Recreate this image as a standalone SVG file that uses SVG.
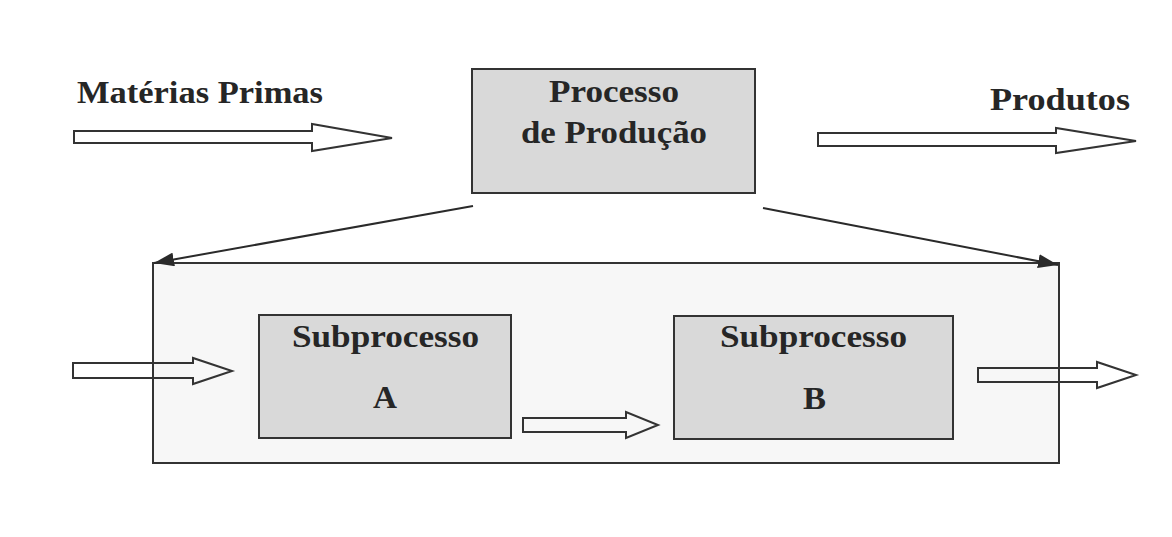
<svg xmlns="http://www.w3.org/2000/svg" width="1172" height="537" viewBox="0 0 1172 537">
<style>
.lbl{font-family:"Liberation Serif","Times New Roman",serif;font-weight:bold;font-size:32px;fill:#262626;}
.box{fill:#d9d9d9;stroke:#333;stroke-width:2;}
.blk{fill:none;stroke:#333;stroke-width:2;stroke-linejoin:miter;}
.con{fill:none;stroke:#2a2a2a;stroke-width:2;}
</style>
<defs>
<marker id="ah2" viewBox="0 0 20 14" refX="20" refY="7" markerWidth="20" markerHeight="14" markerUnits="userSpaceOnUse" orient="auto">
<path d="M0,0 L20,7 L0,14 Z" fill="#2a2a2a"/>
</marker>
</defs>
<rect width="1172" height="537" fill="#ffffff"/>

<g id="subsystem">
<rect x="153" y="263" width="906" height="200" fill="#f7f7f7" stroke="#333" stroke-width="2"/>
</g>

<g id="materias">
<text class="lbl" x="77" y="103" textLength="246" lengthAdjust="spacingAndGlyphs">Matérias Primas</text>
</g>

<g id="processo">
<rect class="box" x="472" y="69" width="283" height="124"/>
<text class="lbl" x="549" y="102" textLength="130" lengthAdjust="spacingAndGlyphs">Processo</text>
<text class="lbl" x="521" y="143" textLength="186" lengthAdjust="spacingAndGlyphs">de Produção</text>
</g>

<g id="produtos">
<text class="lbl" x="990" y="110" textLength="140" lengthAdjust="spacingAndGlyphs">Produtos</text>
</g>

<g id="subA">
<rect class="box" x="259" y="315" width="252" height="123"/>
<text class="lbl" x="292" y="347" textLength="187" lengthAdjust="spacingAndGlyphs">Subprocesso</text>
<text class="lbl" x="373" y="408" textLength="24" lengthAdjust="spacingAndGlyphs">A</text>
</g>

<g id="subB">
<rect class="box" x="674" y="316" width="279" height="123"/>
<text class="lbl" x="720" y="347" textLength="187" lengthAdjust="spacingAndGlyphs">Subprocesso</text>
<text class="lbl" x="803" y="409" textLength="23" lengthAdjust="spacingAndGlyphs">B</text>
</g>

<g id="connectors">
<path class="blk" d="M74,131 L312,131 L312,124 L392,138 L312,151 L312,143 L74,143 Z"/>
<path class="blk" d="M818,133 L1056,133 L1056,128 L1136,141 L1056,153 L1056,146 L818,146 Z"/>
<path class="blk" d="M73,363 L193,363 L193,358 L232,371 L193,384 L193,378 L73,378 Z"/>
<path class="blk" d="M523,418 L626,418 L626,412 L658,425 L626,438 L626,432 L523,432 Z"/>
<path class="blk" d="M978,368 L1097,368 L1097,362 L1136,375 L1097,388 L1097,382 L978,382 Z"/>
<line class="con" x1="473" y1="206" x2="154" y2="263" marker-end="url(#ah2)"/>
<line class="con" x1="763" y1="208" x2="1058" y2="265" marker-end="url(#ah2)"/>
</g>
</svg>
